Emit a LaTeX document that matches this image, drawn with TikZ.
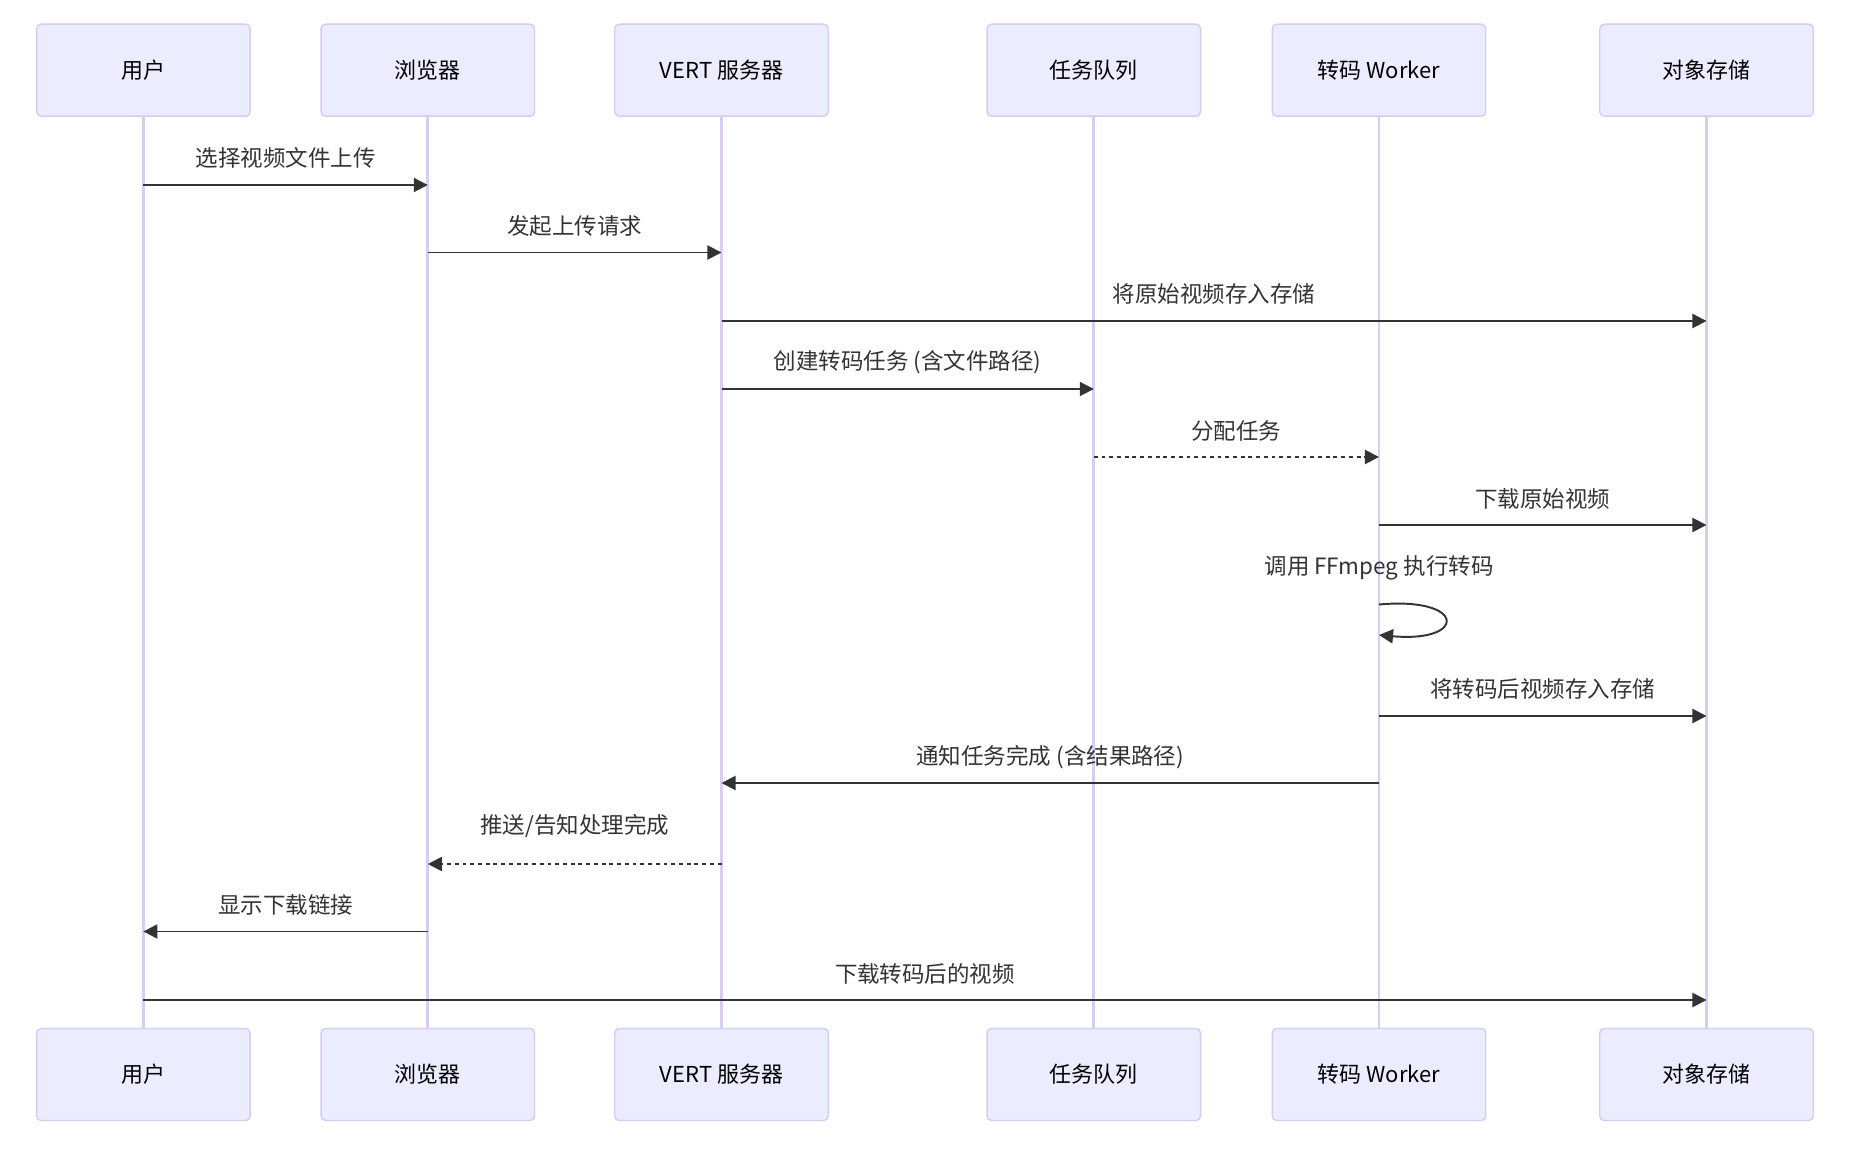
\documentclass[tikz,border=0pt]{standalone}
\usepackage{fontspec}
\setmainfont{Noto Sans CJK SC}
\usetikzlibrary{arrows.meta}
\definecolor{SeqFill}{HTML}{ECECFF}
\definecolor{SeqBorder}{HTML}{D5CBF5}
\definecolor{SeqLine}{HTML}{D8CDF3}
\definecolor{SeqInk}{HTML}{333333}
\tikzset{
  actor/.style={draw=SeqBorder, fill=SeqFill, rounded corners=2.5pt, line width=0.8pt, align=center,
                font=\fontsize{12.5pt}{15pt}\selectfont, minimum width=4.27cm, minimum height=1.84cm, inner sep=0pt},
  lifeline/.style={draw=SeqLine, line width=1.5pt},
  msg/.style={draw=SeqInk, line width=1.1pt, -{Triangle[length=8pt, width=8pt]}},
  reply/.style={msg, dash pattern=on 2.2pt off 2.2pt},
  lbl/.style={font=\fontsize{12.8pt}{15pt}\selectfont, text=SeqInk, inner sep=0pt},
}
\begin{document}
\begin{tikzpicture}[x=0.02cm, y=-0.02cm]
    \useasboundingbox (0,0) rectangle (1858,1168);
    \foreach \n/\x/\t in {user/143.4/用户, browser/427.8/浏览器, server/721.5/VERT 服务器,
                          queue/1093.8/任务队列, worker/1379/转码 Worker, store/1706.5/对象存储} {
      \node[actor] (\n) at (\x,70.2) {\t};
      \node[actor] (\n b) at (\x,1074.5) {\t};
      \draw[lifeline] (\n) -- (\n b);
    }
    \foreach \r/\y in {r1/185, r2/252.5, r3/321, r4/389, r5/457, r6/525, r7/604.5, r7e/635,
                       r8/716, r9/783, r10/864, r11/931.5, r12/1000}
      \coordinate (\r) at (0,\y);
    \draw[msg] (user |- r1) -- (browser |- r1) node[lbl, midway, yshift=0.54cm] {选择视频文件上传};
    \draw[msg] (browser |- r2) -- (server |- r2) node[lbl, midway, yshift=0.54cm] {发起上传请求};
    \draw[msg] (server |- r3) -- (store |- r3) node[lbl, midway, yshift=0.54cm] {将原始视频存入存储};
    \draw[msg] (server |- r4) -- (queue |- r4) node[lbl, midway, yshift=0.54cm] {创建转码任务 (含文件路径)};
    \draw[reply] (queue |- r5) -- (worker |- r5) node[lbl, midway, yshift=0.52cm] {分配任务};
    \draw[msg] (worker |- r6) -- (store |- r6) node[lbl, midway, yshift=0.52cm] {下载原始视频};
    \node[lbl] (self) at (worker |- 0,567.5) {调用 FFmpeg 执行转码};
    \draw[msg] (worker |- r7) .. controls +(88,-8) and +(88,8) .. (worker |- r7e);
    \draw[msg] (worker |- r8) -- (store |- r8) node[lbl, midway, yshift=0.54cm] {将转码后视频存入存储};
    \draw[msg] (worker |- r9) -- (server |- r9) node[lbl, midway, yshift=0.52cm] {通知任务完成 (含结果路径)};
    \draw[reply] (server |- r10) -- (browser |- r10) node[lbl, midway, yshift=0.76cm] {推送/告知处理完成};
    \draw[msg] (browser |- r11) -- (user |- r11) node[lbl, midway, yshift=0.53cm] {显示下载链接};
    \draw[msg] (user |- r12) -- (store |- r12) node[lbl, midway, yshift=0.52cm] {下载转码后的视频};
  \end{tikzpicture}
\end{document}
